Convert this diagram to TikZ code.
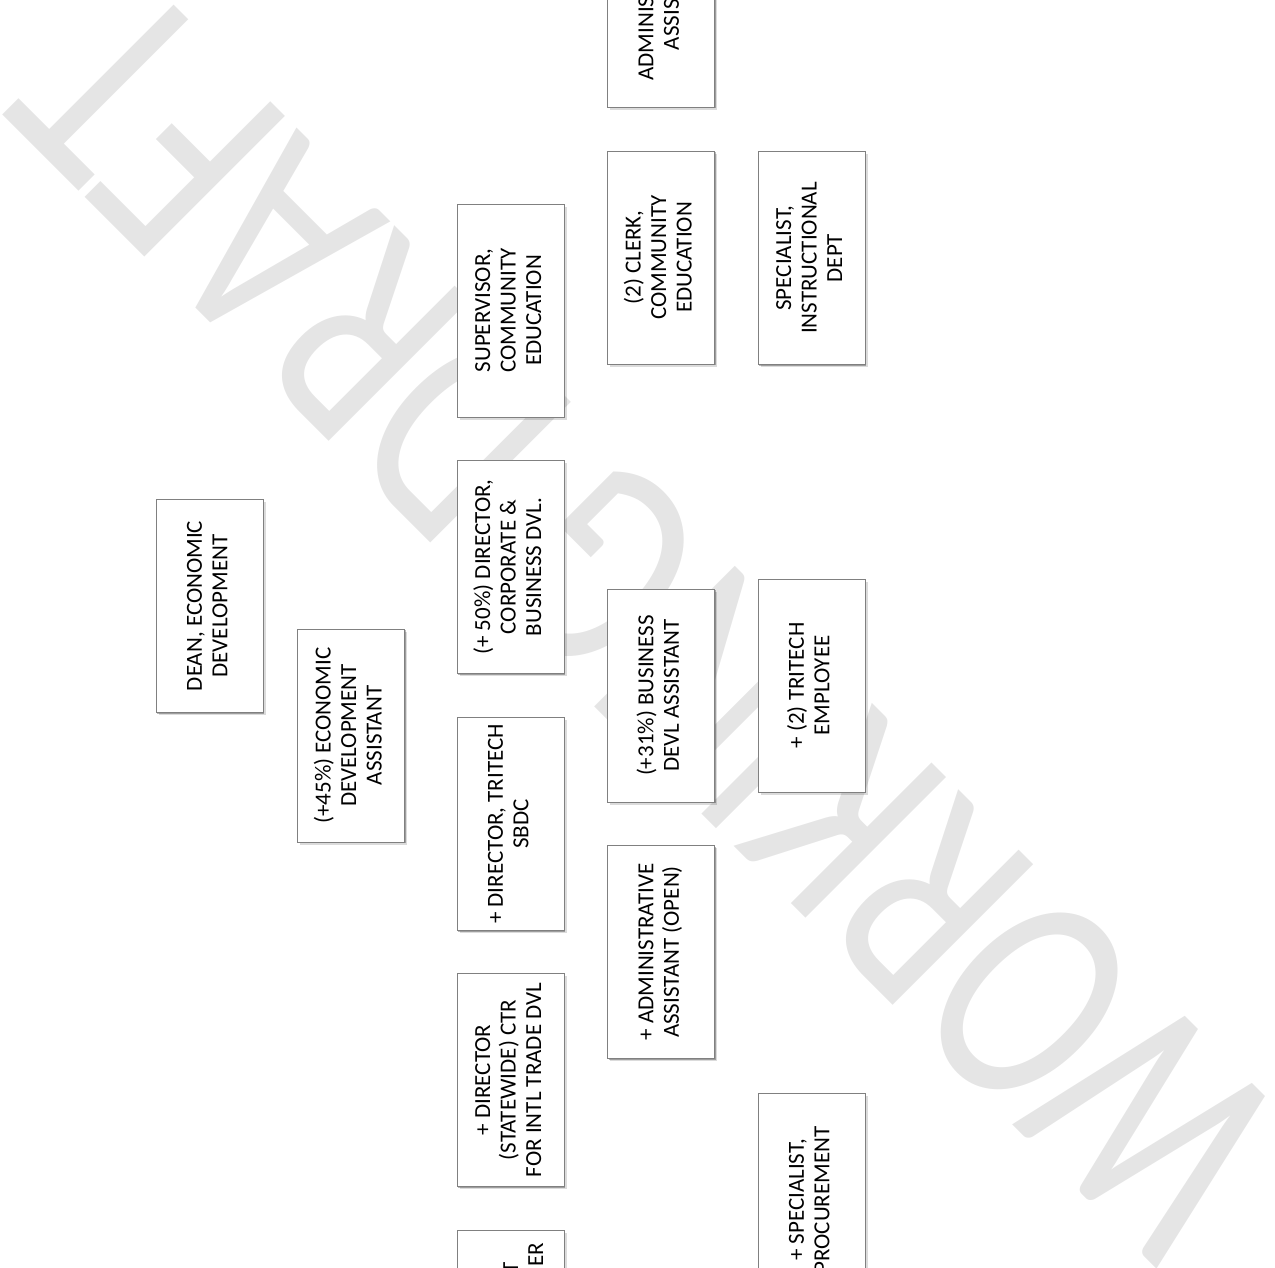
\documentclass[tikz,border=0pt]{standalone}
\usepackage{fontspec}
\usepackage{graphicx}
\setmainfont{Carlito}
\usetikzlibrary{shadows}
\definecolor{wmgray}{RGB}{229,229,229}
\definecolor{boxline}{RGB}{128,128,128}
\tikzset{
  orgbox/.style={draw=boxline, line width=0.8pt, fill=white,
    minimum width=107pt, minimum height=213pt, inner sep=0pt, outer sep=0pt,
    drop shadow={shadow xshift=2.8pt, shadow yshift=-2.8pt, fill=black, opacity=0.14},
    drop shadow={shadow xshift=1.4pt, shadow yshift=-1.4pt, fill=black, opacity=0.28}},
  boxfont/.style={font=\fontsize{23}{25.5}\selectfont},
}
% vertical (bottom-to-top) multi-line label for a position box
\newcommand{\boxtext}[1]{\rotatebox{90}{\fontsize{23}{25.5}\selectfont\begin{tabular}{@{}c@{}}#1\end{tabular}}}

\begin{document}
\begin{tikzpicture}[x=1pt,y=-1pt]
\useasboundingbox (0,0) rectangle (1275,1268);
\clip (0,0) rectangle (1275,1268);

% background watermark
\node[rotate=135, anchor=base, inner sep=0pt, text=wmgray] (draft) at (720,551)
  {\scalebox{0.75}[1]{\fontsize{310}{310}\selectfont WORKING DRAFT}};

% column 1
\node[orgbox] (dean) at (209.5,606) {\boxtext{DEAN, ECONOMIC\\DEVELOPMENT}};
% column 2
\node[orgbox] (econasst) at (351,735.5) {\boxtext{(+45\%) ECONOMIC\\DEVELOPMENT\\ASSISTANT}};
% column 3
\node[orgbox] (supcomm) at (510.5,310.5) {\boxtext{SUPERVISOR,\\COMMUNITY\\EDUCATION}};
\node[orgbox] (dircorp) at (510.5,567) {\boxtext{(+ 50\%) DIRECTOR,\\CORPORATE \&\\BUSINESS DVL.}};
\node[orgbox] (dirsbdc) at (510.5,824) {\boxtext{+ DIRECTOR, TRITECH\\SBDC}};
\node[orgbox] (dirintl) at (510.5,1080) {\boxtext{+ DIRECTOR\\(STATEWIDE) CTR\\FOR INTL TRADE DVL}};
\node[orgbox] (lastbox) at (510.5,1337) {};
\node[rotate=90, anchor=base east, inner sep=0pt, boxfont] (lastT) at (518,1262) {T};
\node[rotate=90, anchor=base east, inner sep=0pt, boxfont] (lastER) at (543,1243) {ER};
% column 4
\node[orgbox] (adminasst) at (661,0.5) {\boxtext{ADMINISTRATIVE\\ASSISTANT}};
\node[orgbox] (clerk) at (661,257.5) {\boxtext{(2) CLERK,\\COMMUNITY\\EDUCATION}};
\node[orgbox] (busdevl) at (661,695.5) {\boxtext{(+31\%) BUSINESS\\DEVL ASSISTANT}};
\node[orgbox] (adminopen) at (661,952) {\boxtext{+ ADMINISTRATIVE\\ASSISTANT (OPEN)}};
% column 5
\node[orgbox] (specinst) at (811.5,258) {\boxtext{SPECIALIST,\\INSTRUCTIONAL\\DEPT}};
\node[orgbox] (tritech) at (811.5,685.5) {\boxtext{+ (2) TRITECH\\EMPLOYEE}};
\node[orgbox] (specproc) at (811.5,1200) {\boxtext{+ SPECIALIST,\\PROCUREMENT}};
\end{tikzpicture}
\end{document}
